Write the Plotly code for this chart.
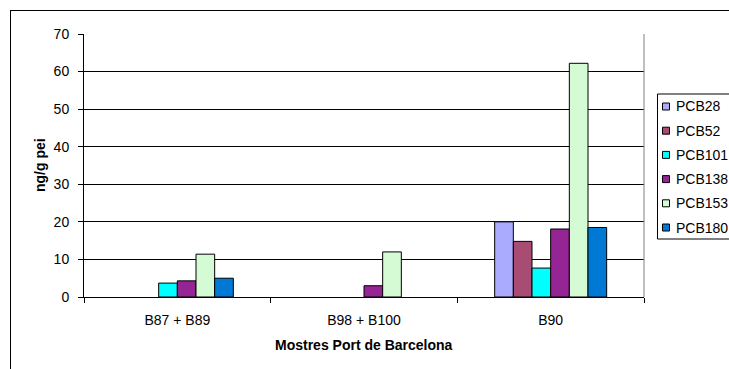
import plotly.graph_objects as go

categories = ["B87 + B89", "B98 + B100", "B90"]
series_names = ["PCB28", "PCB52", "PCB101", "PCB138", "PCB153", "PCB180"]
pcb28 = [None, None, 20.0]
pcb52 = [None, None, 14.8]
pcb101 = [3.7, None, 7.7]
pcb138 = [4.3, 3.0, 18.1]
pcb153 = [11.4, 12.0, 62.2]
pcb180 = [5.0, None, 18.5]
series_values = [pcb28, pcb52, pcb101, pcb138, pcb153, pcb180]
colors = ["#AAAAFF", "#A84C74", "#00FFFF", "#952594", "#D5FBD5", "#0079D5"]
y_ticks = [0, 10, 20, 30, 40, 50, 60, 70]

W, H = 729, 369
L, R, T, B = 84, 644, 34, 297
FONT = "Arial, Liberation Sans, sans-serif"
FS = 14

def px(x):
    return (x - L) / (R - L)

def py(y):
    return (B - y) / (B - T)

fig = go.Figure()
for name, vals, col in zip(series_names, series_values, colors):
    fig.add_trace(go.Bar(
        x=categories, y=vals, name=name, showlegend=False,
        marker=dict(color=col, line=dict(color="#000000", width=1)),
    ))

shapes = []
annotations = []
# outer chart border (top and left visible)
shapes.append(dict(type="line", xref="paper", yref="paper", x0=px(10), x1=px(740), y0=py(10.5), y1=py(10.5), line=dict(color="#000", width=1)))
shapes.append(dict(type="line", xref="paper", yref="paper", x0=px(10.5), x1=px(10.5), y0=py(10), y1=py(380), line=dict(color="#000", width=1)))
# plot area right border
shapes.append(dict(type="line", xref="paper", yref="paper", x0=1, x1=1, y0=0, y1=1, line=dict(color="#808080", width=1)))

# legend (manual)
shapes.append(dict(type="rect", xref="paper", yref="paper", x0=px(657.5), x1=px(745), y0=py(94), y1=py(239), line=dict(color="#000", width=1), fillcolor="#FFFFFF"))
for i, (name, col) in enumerate(zip(series_names, colors)):
    yc = 106.5 + 24.2 * i
    shapes.append(dict(type="rect", xref="paper", yref="paper", x0=px(662.5), x1=px(669.5), y0=py(yc - 3.5), y1=py(yc + 3.5), line=dict(color="#000", width=1), fillcolor=col))
    annotations.append(dict(text=name, xref="paper", yref="paper", x=px(674), y=py(yc), xanchor="left", yanchor="middle", showarrow=False, font=dict(family=FONT, size=FS, color="#000")))

annotations.append(dict(text="<b>ng/g pei</b>", xref="paper", yref="paper", x=px(40), y=py(165), textangle=-90, showarrow=False, xanchor="center", yanchor="middle", font=dict(family=FONT, size=FS, color="#000")))
annotations.append(dict(text="<b>Mostres Port de Barcelona</b>", xref="paper", yref="paper", x=px(364), y=py(345), showarrow=False, xanchor="center", yanchor="middle", font=dict(family=FONT, size=FS, color="#000")))

fig.update_layout(
    width=W, height=H,
    margin=dict(l=L, r=W - R, t=T, b=H - B, pad=0),
    paper_bgcolor="#FFFFFF", plot_bgcolor="#FFFFFF",
    barmode="group", bargap=0.4, bargroupgap=0,
    font=dict(family=FONT, size=FS, color="#000"),
    shapes=shapes, annotations=annotations,
    showlegend=False,
)
fig.update_xaxes(
    type="category", tickson="boundaries", ticks="outside", ticklen=5, tickcolor="#000",
    showline=True, linecolor="#000", linewidth=1, showgrid=False,
    tickfont=dict(family=FONT, size=FS, color="#000"), ticklabelstandoff=10,
)
fig.update_yaxes(
    range=[0, 70], tickvals=y_ticks, ticks="outside", ticklen=5, tickcolor="#000",
    showline=True, linecolor="#000", linewidth=1,
    showgrid=True, gridcolor="#000", gridwidth=1, zeroline=False,
    tickfont=dict(family=FONT, size=FS, color="#000"), ticklabelstandoff=6,
)
fig.write_html("out.html")
